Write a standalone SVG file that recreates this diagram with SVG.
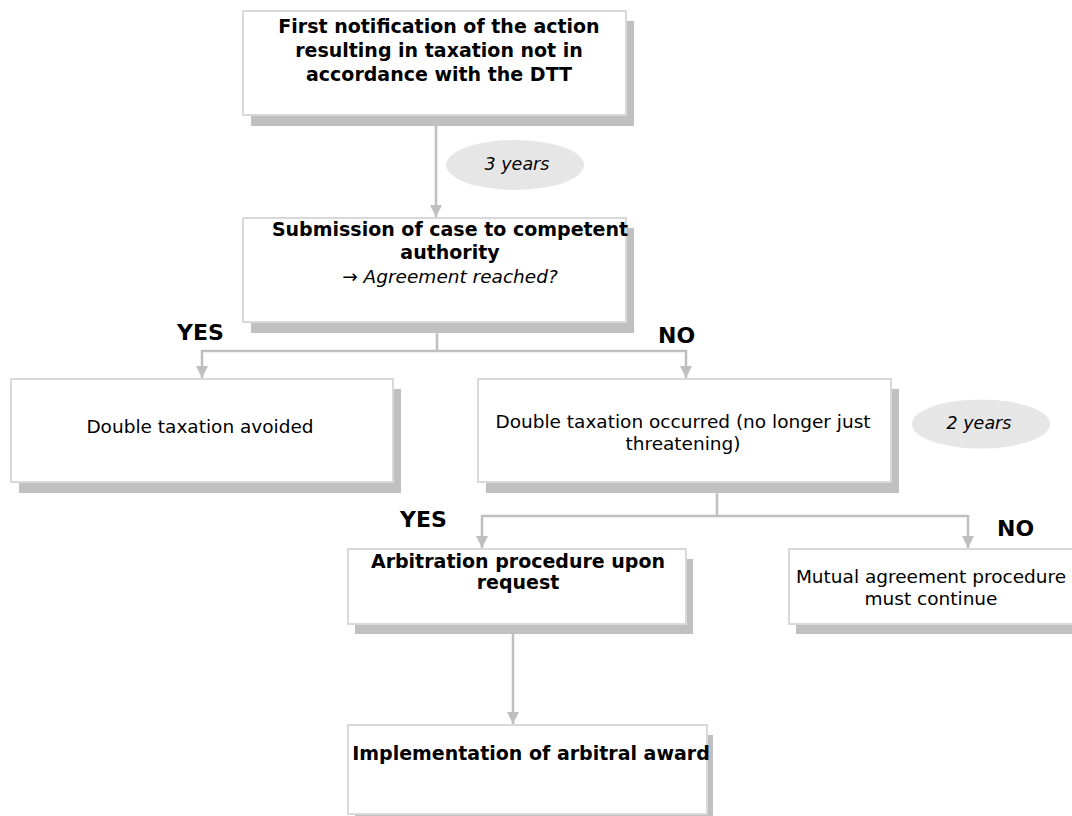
<svg xmlns="http://www.w3.org/2000/svg" width="1072" height="816" viewBox="0 0 1072 816">
<defs>
<style>
.shadow{fill:#c0c0c0;}
.box{fill:#ffffff;stroke:#d9d9d9;stroke-width:2;}
.t{font-family:"DejaVu Sans",Verdana,sans-serif;font-size:18.5px;fill:#000;text-anchor:middle;}
.b{font-family:"DejaVu Sans",Verdana,sans-serif;font-size:19px;font-weight:bold;fill:#000;text-anchor:middle;}
.i{font-family:"DejaVu Sans",Verdana,sans-serif;font-size:17.5px;font-style:italic;fill:#000;text-anchor:middle;}
.lbl{font-family:"DejaVu Sans",Verdana,sans-serif;font-size:22px;font-weight:bold;fill:#000;}
.ell{fill:#e6e6e6;}
.con{fill:none;stroke:#bfbfbf;stroke-width:2.5;}
</style>
<marker id="arr" markerWidth="12" markerHeight="12" viewBox="0 0 12 12" refX="12" refY="6" orient="auto" markerUnits="userSpaceOnUse">
<path d="M0,0 L12,6 L0,12 Z" fill="#bfbfbf"/>
</marker>
</defs>
<rect width="1072" height="816" fill="#ffffff"/>

<g id="connectors">
<line class="con" x1="436" y1="126" x2="436" y2="217" marker-end="url(#arr)"/>
<polyline class="con" points="437,333 437,351"/>
<polyline class="con" points="202,351 686,351"/>
<line class="con" x1="202" y1="350" x2="202" y2="378" marker-end="url(#arr)"/>
<line class="con" x1="686" y1="350" x2="686" y2="378" marker-end="url(#arr)"/>
<polyline class="con" points="717,493 717,516"/>
<polyline class="con" points="482,516 968,516"/>
<line class="con" x1="482" y1="515" x2="482" y2="548" marker-end="url(#arr)"/>
<line class="con" x1="968" y1="515" x2="968" y2="548" marker-end="url(#arr)"/>
<line class="con" x1="513" y1="634" x2="513" y2="724" marker-end="url(#arr)"/>
</g>

<g id="ellipse-3years">
<ellipse class="ell" cx="515" cy="165" rx="69" ry="25"/>
<text class="i" x="517" y="170">3 years</text>
</g>

<g id="ellipse-2years">
<ellipse class="ell" cx="981" cy="424" rx="69" ry="24.5"/>
<text class="i" x="979" y="429">2 years</text>
</g>

<g id="node-first-notification">
<rect class="shadow" x="251" y="21" width="383" height="105"/>
<rect class="box" x="243" y="11" width="383" height="104"/>
<text class="b" x="439" y="33">First notification of the action</text>
<text class="b" x="439" y="57">resulting in taxation not in</text>
<text class="b" x="439" y="81">accordance with the DTT</text>
</g>

<g id="node-submission">
<rect class="shadow" x="251" y="228" width="383" height="105"/>
<rect class="box" x="243" y="218" width="383" height="104"/>
<text class="b" x="450" y="236">Submission of case to competent</text>
<text class="b" x="450" y="259">authority</text>
<text class="t" x="450" y="283"><tspan>→ </tspan><tspan font-style="italic">Agreement reached?</tspan></text>
</g>

<g id="label-yes-1"><text class="lbl" x="177" y="340">YES</text></g>
<g id="label-no-1"><text class="lbl" x="658" y="343">NO</text></g>

<g id="node-avoided">
<rect class="shadow" x="19" y="389" width="382" height="104"/>
<rect class="box" x="11" y="379" width="382" height="103"/>
<text class="t" x="200" y="433">Double taxation avoided</text>
</g>

<g id="node-occurred">
<rect class="shadow" x="486" y="389" width="413" height="104"/>
<rect class="box" x="478" y="379" width="413" height="103"/>
<text class="t" x="683" y="428">Double taxation occurred (no longer just</text>
<text class="t" x="683" y="450">threatening)</text>
</g>

<g id="label-yes-2"><text class="lbl" x="400" y="527">YES</text></g>
<g id="label-no-2"><text class="lbl" x="997" y="536">NO</text></g>

<g id="node-arbitration">
<rect class="shadow" x="355" y="559" width="338" height="75"/>
<rect class="box" x="348" y="549" width="338" height="75"/>
<text class="b" x="518" y="568">Arbitration procedure upon</text>
<text class="b" x="518" y="589">request</text>
</g>

<g id="node-mutual">
<rect class="shadow" x="796" y="559" width="287" height="75"/>
<rect class="box" x="789" y="549" width="287" height="75"/>
<text class="t" x="931" y="583">Mutual agreement procedure</text>
<text class="t" x="931" y="605">must continue</text>
</g>

<g id="node-implementation">
<rect class="shadow" x="355" y="735" width="358" height="90"/>
<rect class="box" x="348" y="725" width="359" height="89"/>
<text class="b" x="531" y="760">Implementation of arbitral award</text>
</g>
</svg>
